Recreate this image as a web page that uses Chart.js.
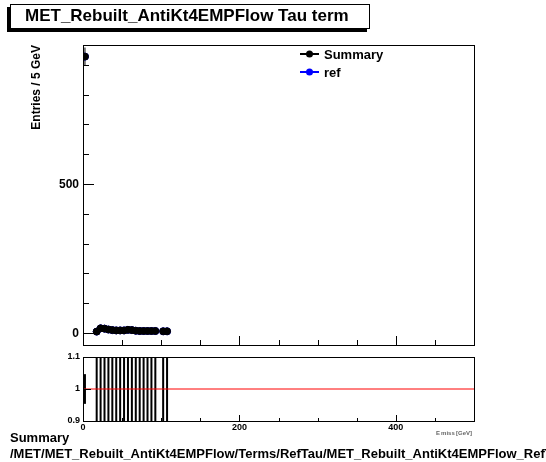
<!DOCTYPE html>
<html>
<head>
<meta charset="utf-8">
<script src="https://cdn.jsdelivr.net/npm/chart.js@4"></script>
<style>
html,body{margin:0;padding:0;background:#fff;overflow:hidden;}
#wrap{position:relative;width:546px;height:462px;overflow:hidden;}
canvas{position:absolute;left:0;top:0;}
.t{position:absolute;font-family:"Liberation Sans",Arial,sans-serif;font-weight:bold;white-space:nowrap;}
</style>
</head>
<body>
<div id="wrap">
<canvas id="main" width="546" height="462"></canvas>
<canvas id="ratio" width="546" height="462"></canvas>
<div class="t" style="left:10px;top:4px;width:358px;height:23px;border:1px solid #000;background:#fff;box-shadow:-3px 3px 0 #000;"></div>
<div class="t" style="left:25px;top:6px;font-size:17px;">MET_Rebuilt_AntiKt4EMPFlow Tau term</div>
<div class="t" style="left:10px;top:430px;font-size:13px;">Summary</div>
<div class="t" style="left:10px;top:446px;font-size:13px;">/MET/MET_Rebuilt_AntiKt4EMPFlow/Terms/RefTau/MET_Rebuilt_AntiKt4EMPFlow_RefTau</div>
</div>
<script>
// ---- data ----
const binCenters = [2.5, 17.5, 22.5, 27.5, 32.5, 37.5, 42.5, 47.5, 52.5, 57.5, 62.5, 67.5, 72.5, 77.5, 82.5, 87.5, 92.5, 102.5, 107.5];
const summaryValues = [928, 4, 15, 14, 11, 9, 8, 8, 8, 10, 9, 7, 6, 6, 6, 6, 6, 5, 5];
const refValues     = [928, 4, 15, 14, 11, 9, 8, 8, 8, 10, 9, 7, 6, 6, 6, 6, 6, 5, 5];
const binWidth = 5;
const mainYTicks = [0, 500];
const ratioYTicks = [0.9, 1, 1.1];
const xTickLabels = [0, 200, 400];

const FONT = '"Liberation Sans", Arial, sans-serif';
const W = 546;
const frameL = 83, frameR = 474;

function pts(vals){ return binCenters.map((x,i)=>({x:x,y:vals[i]})); }
const ratioVals = summaryValues.map((v,i)=> refValues[i] > 0 ? v/refValues[i] : null);
const ratioErr = summaryValues.map((v,i)=> v>0 && refValues[i]>0 ? Math.sqrt(1/v + 1/refValues[i]) * ratioVals[i] : 0);

function drawFrame(ch){
  const ctx = ch.ctx, a = ch.chartArea;
  ctx.save();
  ctx.strokeStyle = '#000'; ctx.lineWidth = 1;
  ctx.strokeRect(Math.round(a.left)+0.5, Math.round(a.top)+0.5, Math.round(a.right-a.left), Math.round(a.bottom-a.top));
  ctx.restore();
}

const mainPlugin = {
  id:'mainDeco',
  beforeDatasetsDraw(ch){
    const ctx = ch.ctx, a = ch.chartArea, xs = ch.scales.x, ys = ch.scales.y;
    ctx.save();
    ctx.beginPath(); ctx.rect(a.left, a.top, a.right-a.left, a.bottom-a.top); ctx.clip();
    ctx.strokeStyle = '#000'; ctx.lineWidth = 1;
    binCenters.forEach((x,i)=>{
      const v = summaryValues[i]; if (v<=0) return;
      const e = Math.sqrt(v);
      const px = xs.getPixelForValue(x), py = ys.getPixelForValue(v);
      ctx.beginPath();
      ctx.moveTo(px, ys.getPixelForValue(v-e)); ctx.lineTo(px, ys.getPixelForValue(v+e));
      ctx.moveTo(xs.getPixelForValue(x-binWidth/2), py); ctx.lineTo(xs.getPixelForValue(x+binWidth/2), py);
      ctx.stroke();
    });
    ctx.restore();
  },
  afterDatasetsDraw(ch){
    const ctx = ch.ctx, a = ch.chartArea, xs = ch.scales.x, ys = ch.scales.y;
    drawFrame(ch);
    ctx.save();
    ctx.strokeStyle='#000'; ctx.lineWidth=1;
    for (let v=0; v<=900; v+=100){
      const py = Math.round(ys.getPixelForValue(v))+0.5;
      const len = (v%500===0) ? 11 : 6;
      ctx.beginPath(); ctx.moveTo(a.left, py); ctx.lineTo(a.left+len, py); ctx.stroke();
    }
    for (let v=0; v<=500; v+=50){
      const px = Math.round(xs.getPixelForValue(v))+0.5;
      const len = (v%200===0) ? 9 : 5;
      ctx.beginPath(); ctx.moveTo(px, a.bottom); ctx.lineTo(px, a.bottom-len); ctx.stroke();
    }
    ctx.fillStyle='#000';
    ctx.font = 'bold 12px '+FONT;
    ctx.textAlign='right'; ctx.textBaseline='middle';
    mainYTicks.forEach(v=>{ ctx.fillText(String(v), a.left-4, ys.getPixelForValue(v)+1); });
    ctx.save();
    ctx.translate(37, a.top);
    ctx.rotate(-Math.PI/2);
    ctx.textAlign='right'; ctx.textBaseline='middle';
    ctx.font='bold 12px '+FONT;
    ctx.fillText('Entries / 5 GeV', 0, 0);
    ctx.restore();
    const items = [{label:'Summary', color:'#000', y:54},{label:'ref', color:'#0000ff', y:72}];
    items.forEach(it=>{
      ctx.strokeStyle = it.color; ctx.fillStyle = it.color; ctx.lineWidth = 2;
      ctx.beginPath(); ctx.moveTo(300, it.y); ctx.lineTo(319, it.y); ctx.stroke();
      ctx.beginPath(); ctx.arc(309.5, it.y, 3.5, 0, Math.PI*2); ctx.fill();
      ctx.fillStyle='#000'; ctx.font='bold 13px '+FONT;
      ctx.textAlign='left'; ctx.textBaseline='middle';
      ctx.fillText(it.label, 324, it.y+1);
    });
    ctx.restore();
  }
};

new Chart(document.getElementById('main'), {
  type:'scatter',
  data:{datasets:[
    {label:'ref', data:pts(refValues), backgroundColor:'#0000ff', borderColor:'#0000ff', pointRadius:3.5, pointHoverRadius:3.5, order:2},
    {label:'Summary', data:pts(summaryValues), backgroundColor:'#000', borderColor:'#000', pointRadius:3.5, pointHoverRadius:3.5, order:1}
  ]},
  options:{
    responsive:false, animation:false, devicePixelRatio:1,
    layout:{padding:{left:frameL, right:W-frameR, top:45, bottom:462-345}},
    plugins:{legend:{display:false}, tooltip:{enabled:false}},
    events:[],
    scales:{
      x:{type:'linear', min:0, max:500, display:false},
      y:{type:'linear', min:-41, max:967, display:false}
    }
  },
  plugins:[mainPlugin]
});

const ratioPlugin = {
  id:'ratioDeco',
  beforeDatasetsDraw(ch){
    const ctx = ch.ctx, a = ch.chartArea, xs = ch.scales.x, ys = ch.scales.y;
    ctx.save();
    ctx.beginPath(); ctx.rect(a.left, a.top, a.right-a.left, a.bottom-a.top); ctx.clip();
    ctx.strokeStyle='#000'; ctx.lineWidth=2;
    binCenters.forEach((x,i)=>{
      const r = ratioVals[i]; if (r===null) return;
      const e = ratioErr[i];
      const px = xs.getPixelForValue(x);
      ctx.beginPath();
      ctx.moveTo(px, ys.getPixelForValue(r-e)); ctx.lineTo(px, ys.getPixelForValue(r+e));
      ctx.stroke();
    });
    ctx.restore();
  },
  afterDatasetsDraw(ch){
    const ctx = ch.ctx, a = ch.chartArea, xs = ch.scales.x, ys = ch.scales.y;
    drawFrame(ch);
    ctx.save();
    ctx.strokeStyle='#000'; ctx.lineWidth=1;
    for (let v=0; v<=500; v+=50){
      const px = Math.round(xs.getPixelForValue(v))+0.5;
      const len = (v%200===0) ? 6 : 3;
      ctx.beginPath(); ctx.moveTo(px, a.bottom); ctx.lineTo(px, a.bottom-len); ctx.stroke();
    }
    ratioYTicks.forEach(v=>{
      const py = Math.round(ys.getPixelForValue(v))+0.5;
      ctx.beginPath(); ctx.moveTo(a.left, py); ctx.lineTo(a.left+8, py); ctx.stroke();
    });
    ctx.fillStyle='#000';
    ctx.font='bold 9px '+FONT;
    ctx.textAlign='right'; ctx.textBaseline='middle';
    ratioYTicks.forEach(v=>{ ctx.fillText(String(v), a.left-3, ys.getPixelForValue(v)); });
    ctx.textAlign='center'; ctx.textBaseline='top';
    xTickLabels.forEach(v=>{ ctx.fillText(String(v), xs.getPixelForValue(v), a.bottom+2); });
    ctx.font='bold 6px '+FONT; ctx.fillStyle='#666';
    ctx.textAlign='right';
    ctx.fillText('E\u2009miss\u2009[GeV]', a.right-2, a.bottom+9);
    ctx.restore();
  }
};

new Chart(document.getElementById('ratio'), {
  type:'scatter',
  data:{datasets:[
    {label:'one', data:[{x:0,y:1},{x:500,y:1}], showLine:true, borderColor:'#ff0000', borderWidth:1, pointRadius:0}
  ]},
  options:{
    responsive:false, animation:false, devicePixelRatio:1,
    layout:{padding:{left:frameL, right:W-frameR, top:357, bottom:462-421}},
    plugins:{legend:{display:false}, tooltip:{enabled:false}},
    events:[],
    scales:{
      x:{type:'linear', min:0, max:500, display:false},
      y:{type:'linear', min:0.9, max:1.1, display:false}
    }
  },
  plugins:[ratioPlugin]
});
</script>
</body>
</html>
